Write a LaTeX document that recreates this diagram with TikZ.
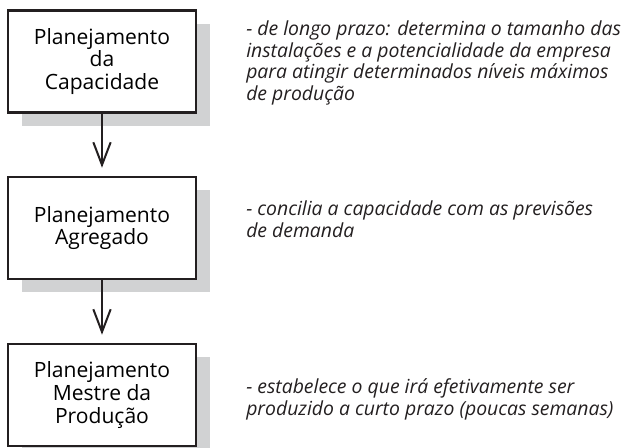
\documentclass[tikz,border=0pt]{standalone}
\usepackage{fontspec}
\setmainfont{Open Sans}
\usetikzlibrary{positioning,shadows,arrows.meta}
\definecolor{linhagray}{HTML}{231F20}
\definecolor{sombragray}{HTML}{D1D2D3}
\begin{document}
\begin{tikzpicture}[x=0.75pt, y=-0.75pt,
    etapa/.style={draw=linhagray, line width=1.9pt, fill=white, inner sep=0pt,
        minimum width=141pt, minimum height=76.5pt, align=center,
        font=\fontsize{15.8}{16.9}\selectfont,
        general shadow={fill=sombragray, shadow xshift=10.5pt, shadow yshift=-10pt}},
    nota/.style={anchor=base west, align=left, inner sep=0pt, text=linhagray,
        font=\itshape\fontsize{14.55}{16.1}\selectfont},
    seta/.style={draw=linhagray, line width=1.5pt, shorten >=6pt,
        -{Straight Barb[length=17pt, width=13pt, line width=1.5pt]}}]
    % área do desenho
    \useasboundingbox (0,0) rectangle (624,447);
    \clip (0,0) rectangle (624,447);

    % caixas das etapas
    \node[etapa] (capacidade) at (102,61.5) {Planejamento\\da\\Capacidade};
    \node[etapa] (agregado) at (102,228) {Planejamento\\Agregado};
    \node[etapa] (mestre) at (102,395) {Planejamento\\Mestre da\\Produção};

    % setas entre as etapas
    \draw[seta] (capacidade) -- (agregado);
    \draw[seta] (agregado) -- (mestre);

    % descrições à direita (ancoradas na última linha)
    \node[nota] (notacap) at (246,100) {- de longo prazo: determina o tamanho das\\instalações e a potencialidade da empresa\\para atingir determinados níveis máximos\\de produção};
    \node[nota] (notaagr) at (246,237) {- concilia a capacidade com as previsões\\de demanda};
    \node[nota] (notamestre) at (246,415) {- estabelece o que irá efetivamente ser\\produzido a curto prazo (poucas semanas)};
\end{tikzpicture}
\end{document}
